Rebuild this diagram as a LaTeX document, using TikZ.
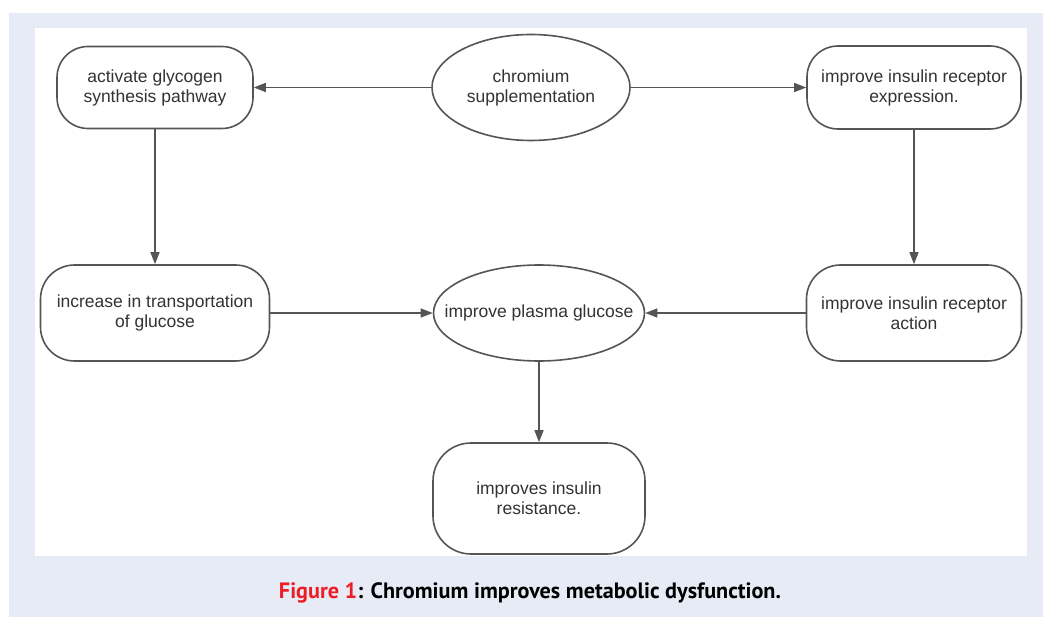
\documentclass[tikz,border=0pt]{standalone}
\usepackage{fontspec}
\setmainfont{Liberation Sans}
\newfontfamily\capfont{PT Sans}
\usetikzlibrary{arrows.meta,shapes.geometric}
\definecolor{bgblue}{HTML}{E6EBF5}
\definecolor{edgegrey}{HTML}{555555}
\definecolor{txtgrey}{HTML}{333333}
\definecolor{figred}{HTML}{EE1C25}
\begin{document}
\begin{tikzpicture}[x=1pt,y=-1pt,
  shapebase/.style={draw=edgegrey, line width=1.6pt, fill=white, text=txtgrey,
    align=center, font=\fontsize{17.5}{20}\selectfont, inner sep=0pt},
  pill/.style={shapebase, rectangle, rounded corners=#1},
  oval/.style={shapebase, ellipse},
  arr/.style={draw=edgegrey, line width=1.4pt, -{Triangle[length=12pt,width=9pt]}}]
\useasboundingbox (0,0) rectangle (1043,617);
\fill[white] (0,0) rectangle (1043,617);
\fill[bgblue] (9,13) rectangle (1043,617);
\fill[white] (35,28) rectangle (1027,556);

\node[oval, inner xsep=-5pt, minimum width=198pt, minimum height=106pt] (chrom) at (531,87.5)
  {chromium\\supplementation};
\node[pill=31pt, minimum width=196pt, minimum height=82pt] (glyc) at (155,87.5)
  {activate glycogen\\synthesis pathway};
\node[pill=31pt, minimum width=214pt, minimum height=83pt] (expr) at (914,87.5)
  {improve insulin receptor\\expression.};
\node[pill=34pt, minimum width=229pt, minimum height=96pt] (trans) at (155,313)
  {increase in transportation\\of glucose};
\node[oval, inner xsep=-25pt, minimum width=211pt, minimum height=96pt] (plasma) at (539,313)
  {improve plasma glucose};
\node[pill=34pt, minimum width=215pt, minimum height=96pt] (action) at (914,313)
  {improve insulin receptor\\action};
\node[pill=38pt, minimum width=212pt, minimum height=111pt] (resist) at (539,498.5)
  {improves insulin\\resistance.};

\draw[arr] (chrom.west) -- (glyc.east);
\draw[arr] (chrom.east) -- (expr.west);
\draw[arr] (glyc.south) -- (trans.north);
\draw[arr] (expr.south) -- (action.north);
\draw[arr] (trans.east) -- (plasma.west);
\draw[arr] (action.west) -- (plasma.east);
\draw[arr] (plasma.south) -- (resist.north);

\node[inner sep=0pt] (caption) at (530,593)
  {\resizebox{502pt}{!}{\fontsize{20}{24}\selectfont\capfont\bfseries\textcolor{figred}{Figure 1}: Chromium improves metabolic dysfunction.}};
\end{tikzpicture}
\end{document}
